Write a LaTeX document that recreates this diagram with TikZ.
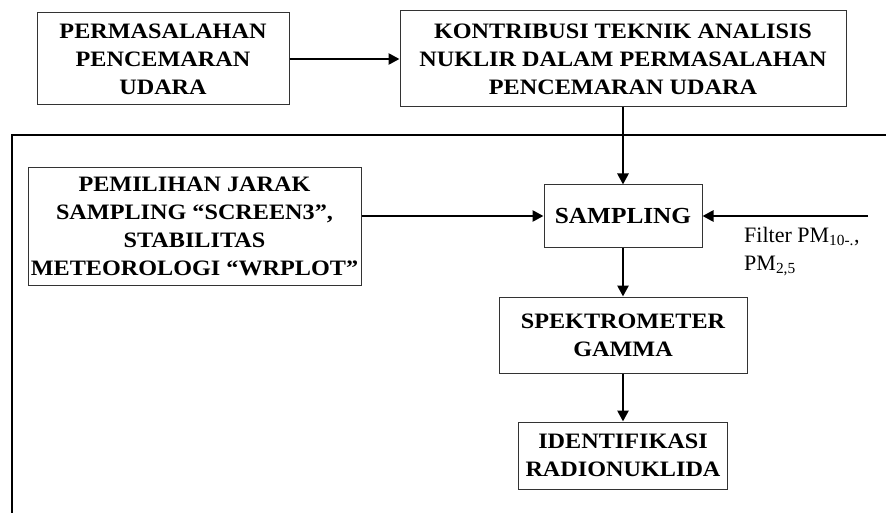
\documentclass[tikz,border=0pt]{standalone}
\usepackage{fontspec}
\setmainfont{Liberation Serif}
\newfontfamily\boxfont[FakeStretch=1.1]{Liberation Serif}
\usetikzlibrary{arrows.meta}

\tikzset{
	flowpicture/.style = {
		x = 1pt,
		y = -1pt,
		arrow/.style = {
			draw,
			line width = 2.6pt,
			-{Triangle[length=11pt, width=11pt]},
		}
	},
	flowbox/.style = {
		rectangle,
		draw = black!80,
		line width = 1pt,
		inner sep = 0pt,
		align = center,
		font = \boxfont\fontsize{22}{28}\selectfont\bfseries
	},
	filterlabel/.style = {
		align = left,
		inner sep = 0pt,
		font = \fontsize{22}{28}\selectfont
	}
}

\begin{document}
\begin{tikzpicture}[flowpicture]
	\useasboundingbox (0,0) rectangle (886,513);

	\node[flowbox, minimum width = 252pt, minimum height = 92pt] (masalah) at (163,59)
		{PERMASALAHAN\\PENCEMARAN\\UDARA};
	\node[flowbox, minimum width = 446pt, minimum height = 96pt] (kontribusi) at (623,59)
		{KONTRIBUSI TEKNIK ANALISIS\\NUKLIR DALAM PERMASALAHAN\\PENCEMARAN UDARA};

	\node[flowbox, minimum width = 333pt, minimum height = 117pt] (pemilihan) at (194.5,226.5)
		{PEMILIHAN JARAK\\SAMPLING “SCREEN3”,\\STABILITAS\\METEOROLOGI “WRPLOT”};
	\node[flowbox, minimum width = 158pt, minimum height = 62pt,
		font = \boxfont\fontsize{23}{28}\selectfont\bfseries] (sampling) at (623,216)
		{SAMPLING};
	\node[flowbox, minimum width = 248pt, minimum height = 76pt] (spektro) at (623,335)
		{SPEKTROMETER\\GAMMA};
	\node[flowbox, minimum width = 209pt, minimum height = 67pt] (identifikasi) at (623,455.5)
		{IDENTIFIKASI\\RADIONUKLIDA};

	\coordinate (filterin) at (868,216);
	\node[filterlabel, anchor = north west] (filter) at (744,227)
		{Filter PM\textsubscript{10-.},\\PM\textsubscript{2,5}};

	% frame round the lower part
	\draw[line width = 1.8pt] (12,513) -- (12,135) -- (886,135);

	\begin{scope}[every path/.style = arrow]
		\path (masalah) -- (kontribusi);
		\path (kontribusi) -- (sampling);
		\path (pemilihan.east |- sampling.west) -- (sampling.west);
		\path (filterin) -- (sampling.east);
		\path (sampling) -- (spektro);
		\path (spektro) -- (identifikasi);
	\end{scope}
\end{tikzpicture}
\end{document}
